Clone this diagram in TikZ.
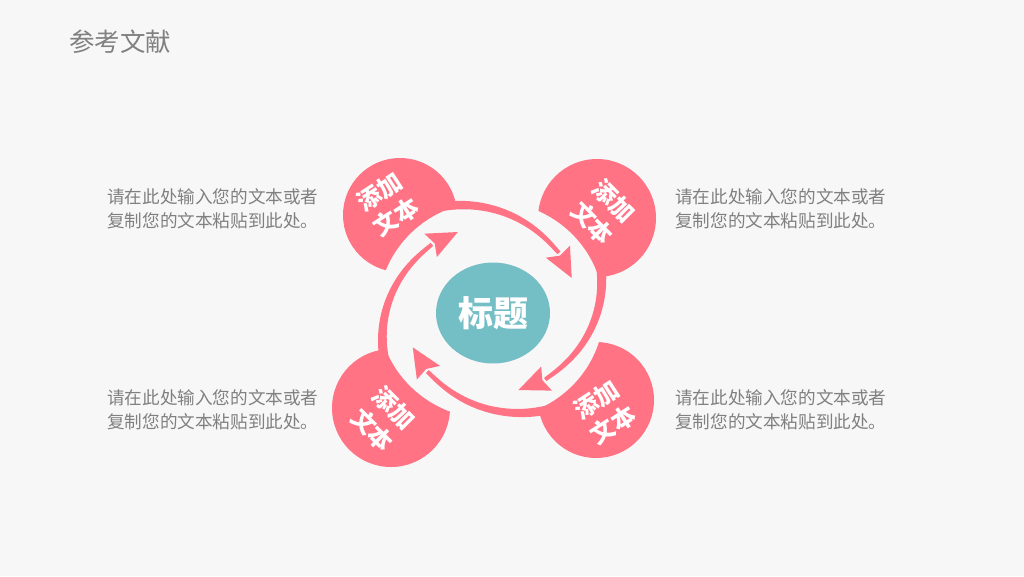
\documentclass[tikz,border=0pt]{standalone}
\usepackage{fontspec}
\setmainfont{Noto Sans CJK SC}
\usetikzlibrary{shapes.geometric}
\definecolor{bgc}{HTML}{F7F7F7}
\definecolor{pinkc}{HTML}{FF7385}
\definecolor{tealc}{HTML}{74BEC6}
\definecolor{txtc}{HTML}{808080}
\newcommand\spiralarrow{%
  \fill[pinkc] plot[domain=124:41, samples=60, variable=\t] (\t:{rr(\t)+ww(\t)/2})
     -- plot[domain=41:124, samples=60, variable=\t] (\t:{rr(\t)-ww(\t)/2}) -- cycle;
  \fill[pinkc] (78.0,32.0) -- (76.3,64.4) -- (66.6,54.4) -- (53.0,52.3) -- cycle;
}
\begin{document}
\begin{tikzpicture}[x=1pt,y=1pt,
  declare function={ur(\t)=(\t-42)/80; rr(\t)=87+31*abs(ur(\t))*sqrt(abs(ur(\t))); ww(\t)=4+6*ur(\t);},
  bubble/.style={circle, fill=pinkc, minimum size=#1, inner sep=0pt},
  bubtext/.style={text=white, font=\bfseries\fontsize{24}{30}\selectfont, align=center, inner sep=0pt},
  bodytext/.style={text=txtc, font=\fontsize{17.6}{24}\selectfont, align=left, anchor=west, inner sep=0pt}
]
\useasboundingbox (0,0) rectangle (1024,-576);
\fill[bgc] (0,0) rectangle (1024,-576);

\node[text=txtc, font=\fontsize{25.5}{30}\selectfont, anchor=west, inner sep=0pt] (title) at (69,-42) {参考文献};

% pink bubbles
\node[bubble=114] (tl) at (400,-215) {};
\node[bubble=118] (tr) at (597,-218) {};
\node[bubble=118] (bl) at (391,-408) {};
\node[bubble=116] (br) at (596,-400) {};

% ring
\begin{scope}[shift={(491,-310)}, xscale=1.035]
  \fill[bgc] (0,0) circle[radius=109];
  \begin{scope}[rotate=0]\spiralarrow\end{scope}
  \begin{scope}[rotate=-94]\spiralarrow\end{scope}
  \begin{scope}[rotate=-176]\spiralarrow\end{scope}
  \begin{scope}[rotate=90]\spiralarrow\end{scope}
\end{scope}

% centre
\node[ellipse, fill=tealc, minimum width=114, minimum height=101, inner sep=0pt,
      text=white, font=\bfseries\fontsize{35}{40}\selectfont] (centre) at (493,-313) {标题};

% bubble labels
\node[bubtext, rotate=33] (tlt) at (388,-204) {添加\\文本};
\node[bubtext, rotate=-45] (trt) at (603,-212) {添加\\文本};
\node[bubtext, rotate=-45] (blt) at (383,-419) {添加\\文本};
\node[bubtext, rotate=33] (brt) at (605,-412) {添加\\文本};

% descriptions
\node[bodytext] (d1) at (107,-209) {请在此处输入您的文本或者\\复制您的文本粘贴到此处。};
\node[bodytext] (d2) at (675,-209) {请在此处输入您的文本或者\\复制您的文本粘贴到此处。};
\node[bodytext] (d3) at (107,-410) {请在此处输入您的文本或者\\复制您的文本粘贴到此处。};
\node[bodytext] (d4) at (675,-410) {请在此处输入您的文本或者\\复制您的文本粘贴到此处。};
\end{tikzpicture}
\end{document}
